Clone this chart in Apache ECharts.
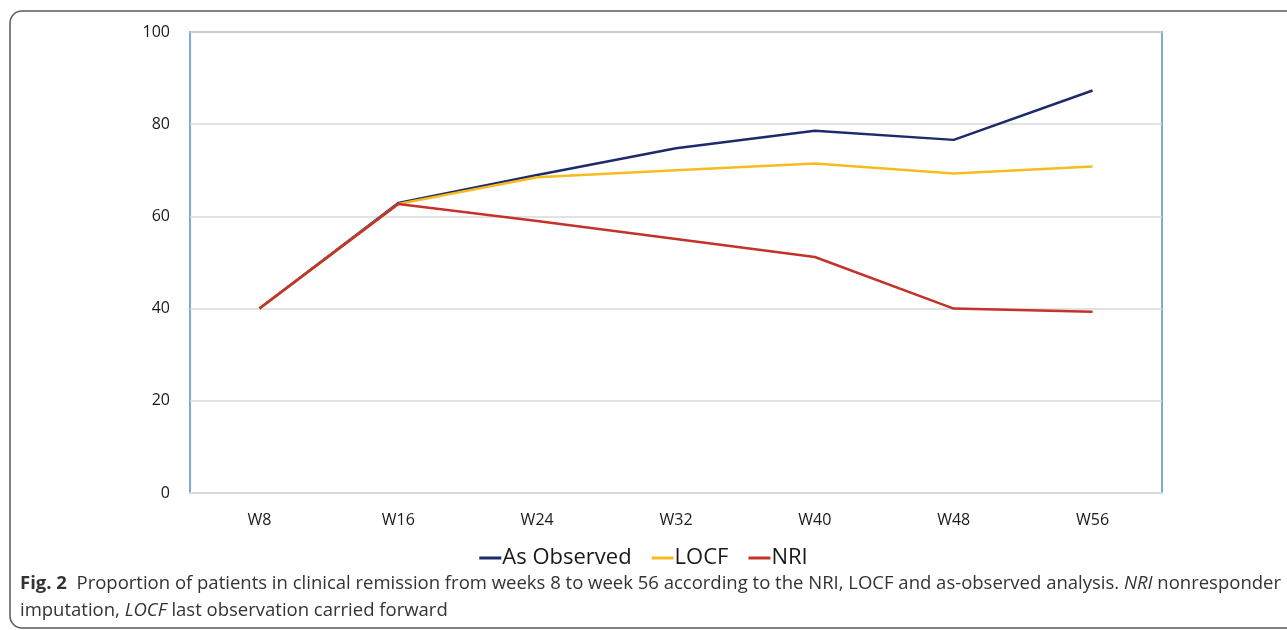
<!DOCTYPE html>
<html>
<head>
<meta charset="utf-8">
<script src="https://cdn.jsdelivr.net/npm/echarts@6/dist/echarts.min.js"></script>
<style>
  html, body { margin: 0; padding: 0; background: #fff; }
  #chart { width: 1287px; height: 630px; }
</style>
</head>
<body>
<div id="chart"></div>
<script>
const weeks = ['W8', 'W16', 'W24', 'W32', 'W40', 'W48', 'W56'];
const asObserved = [40, 62.9, 69.0, 74.8, 78.6, 76.6, 87.3];
const locf = [40, 62.7, 68.5, 70.0, 71.5, 69.3, 70.8];
const nri = [40, 62.7, 59.0, 55.1, 51.2, 40.0, 39.3];
const yTicks = [0, 20, 40, 60, 80, 100];

const chart = echarts.init(document.getElementById('chart'));
const labelFont = "'Open Sans', sans-serif";
const captionFont = 'Open Sans';
const captionSize = 18.5;

const lineSeries = (name, data, color) => ({
  name,
  type: 'line',
  data,
  symbol: 'none',
  lineStyle: { color, width: 2.5 },
  itemStyle: { color },
  animation: false,
});

chart.setOption({
  animation: false,
  grid: {
    left: 190,
    right: 125,
    top: 32,
    bottom: 137,
    show: true,
    borderColor: '#7eaad8',
    borderWidth: 2,
  },
  legend: {
    bottom: 56,
    left: 'center',
    icon: 'rect',
    itemWidth: 22,
    itemHeight: 3,
    itemGap: 20,
    textStyle: { fontSize: 22, color: '#1a1a1a', fontFamily: labelFont, padding: [0, 0, 0, -4] },
    data: ['As Observed', 'LOCF', 'NRI'],
  },
  xAxis: {
    type: 'category',
    data: weeks,
    boundaryGap: true,
    axisTick: { show: false },
    axisLine: { lineStyle: { color: '#d9d9d9', width: 2 } },
    axisLabel: { color: '#1a1a1a', fontSize: 16, fontFamily: labelFont, margin: 19 },
  },
  yAxis: {
    type: 'value',
    min: yTicks[0],
    max: yTicks[yTicks.length - 1],
    interval: 20,
    axisLine: { show: false },
    axisTick: { show: false },
    axisLabel: { color: '#1a1a1a', fontSize: 16, fontFamily: labelFont, margin: 20 },
    splitLine: { lineStyle: { color: '#d9d9d9', width: 1.5 } },
  },
  graphic: [
    {
      type: 'rect',
      shape: { x: 10, y: 11, width: 1320, height: 617, r: 12 },
      style: { fill: 'none', stroke: '#5a5a5a', lineWidth: 1.5 },
      silent: true,
    },
    {
      type: 'text',
      left: 20,
      top: 574,
      style: {
        text: '{b|Fig. 2}  Proportion of patients in clinical remission from weeks 8 to week 56 according to the NRI, LOCF and as-observed analysis. {i|NRI} nonresponder',
        font: captionSize + "px 'Open Sans', sans-serif",
        fill: '#333',
        rich: {
          b: { fontWeight: 'bold', fontSize: captionSize, fontFamily: captionFont, fill: '#333' },
          i: { fontStyle: 'italic', fontSize: captionSize, fontFamily: captionFont, fill: '#333' },
        },
      },
    },
    {
      type: 'text',
      left: 20,
      top: 601,
      style: {
        text: 'imputation, {i|LOCF} last observation carried forward',
        font: captionSize + "px 'Open Sans', sans-serif",
        fill: '#333',
        rich: {
          i: { fontStyle: 'italic', fontSize: captionSize, fontFamily: captionFont, fill: '#333' },
        },
      },
    },
  ],
  series: [
    lineSeries('As Observed', asObserved, '#1c2b6b'),
    lineSeries('LOCF', locf, '#f7bb1f'),
    lineSeries('NRI', nri, '#c3322b'),
  ],
});
</script>
</body>
</html>
